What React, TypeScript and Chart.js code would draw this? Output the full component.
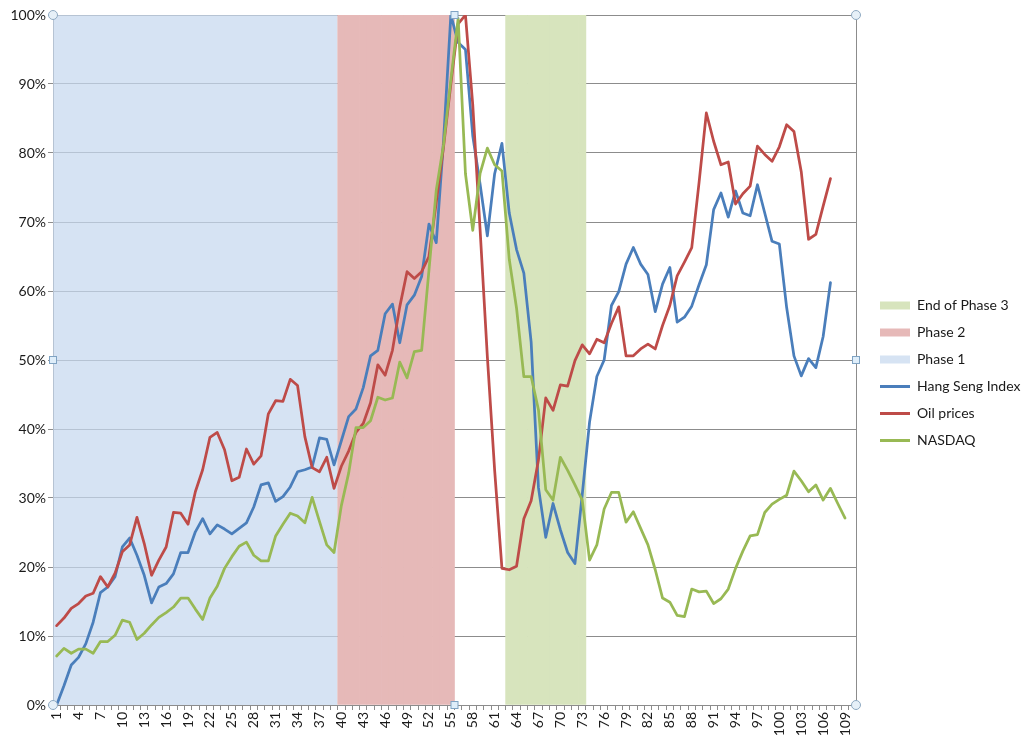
import React, { useEffect, useRef } from "react";
import { Chart, registerables } from "chart.js";

Chart.register(...registerables);

// ---- data ----
const categories: string[] = Array.from({ length: 110 }, (_, i) => String(i + 1));

const hangSeng: number[] = [
  0, 2.8, 5.8, 6.9, 8.9, 12, 16.3, 17.1, 18.6, 22.9,
  24.2, 21.7, 18.8, 14.8, 17.1, 17.6, 19, 22.1, 22.1, 25.1,
  27, 24.8, 26.1, 25.5, 24.8, 25.6, 26.4, 28.7, 31.9, 32.2,
  29.5, 30.2, 31.6, 33.8, 34.1, 34.5, 38.7, 38.5, 34.8, 38.3,
  41.8, 42.9, 46, 50.6, 51.4, 56.7, 58.1, 52.5, 58, 59.4,
  62.1, 69.7, 67, 81.8, 100, 96, 95, 82.5, 75.5, 68,
  77, 81.4, 71.3, 66, 62.6, 52.6, 31.5, 24.3, 29.2, 25.4,
  22.1, 20.5, 30.5, 41, 47.6, 50, 57.9, 59.9, 63.9, 66.3,
  63.9, 62.4, 57, 61, 63.4, 55.5, 56.2, 57.8, 60.9, 63.8,
  71.8, 74.2, 70.7, 74.5, 71.3, 70.9, 75.4, 71.3, 67.2, 66.8,
  57.6, 50.6, 47.7, 50.2, 48.9, 53.4, 61.2,
];

const oilPrices: number[] = [
  11.5, 12.6, 14, 14.7, 15.8, 16.2, 18.6, 17.1, 19.1, 22.2,
  23.2, 27.2, 23.4, 18.8, 21, 22.9, 27.9, 27.8, 26.2, 30.9,
  34.1, 38.8, 39.5, 37, 32.5, 33, 37.1, 34.9, 36.1, 42.2,
  44.1, 44, 47.2, 46.3, 38.9, 34.4, 33.8, 35.9, 31.4, 34.6,
  36.8, 39.5, 40.8, 43.8, 49.3, 47.8, 51.4, 57.7, 62.8, 61.8,
  62.8, 65, 72.8, 80.9, 90, 98.7, 100, 87, 69, 50.5,
  34, 19.8, 19.6, 20.1, 27, 29.6, 35.5, 44.5, 42.7, 46.4,
  46.2, 49.9, 52.2, 50.9, 53, 52.5, 55.3, 57.7, 50.6, 50.6,
  51.6, 52.3, 51.6, 55, 57.9, 62.2, 64.2, 66.3, 75.7, 85.8,
  81.7, 78.3, 78.7, 72.6, 74.1, 75.2, 81, 79.8, 78.8, 80.9,
  84.1, 83.1, 77.3, 67.5, 68.2, 72.3, 76.3,
];

const nasdaq: number[] = [
  7.1, 8.2, 7.5, 8.1, 8.1, 7.5, 9.2, 9.2, 10.1, 12.3,
  12, 9.5, 10.4, 11.6, 12.7, 13.4, 14.2, 15.5, 15.5, 13.9,
  12.4, 15.5, 17.2, 19.8, 21.5, 23, 23.6, 21.7, 20.9, 20.9,
  24.5, 26.2, 27.8, 27.4, 26.4, 30.1, 26.6, 23.2, 22.1, 28.9,
  33.6, 40.2, 40.2, 41.2, 44.6, 44.2, 44.5, 49.7, 47.4, 51.2,
  51.4, 63, 74.6, 81.2, 90.6, 99.5, 77, 68.8, 77, 80.7,
  78.3, 77.4, 64.6, 57.5, 47.6, 47.6, 42.8, 31.2, 29.7, 35.9,
  34, 31.9, 29.7, 21, 23.2, 28.4, 30.8, 30.8, 26.5, 28,
  25.6, 23.2, 19.6, 15.5, 14.9, 13, 12.8, 16.8, 16.4, 16.5,
  14.7, 15.4, 16.8, 19.8, 22.3, 24.5, 24.7, 27.9, 29.1, 29.8,
  30.4, 33.9, 32.5, 30.9, 31.9, 29.7, 31.4, 29.2, 27.1,
];

// phase bands: [first category, last category]
const phase1Range: [number, number] = [1, 39];
const phase2Range: [number, number] = [40, 55];
const phase3EndRange: [number, number] = [63, 73];
const bandHeight = 100;

const yTicks: number[] = [0, 10, 20, 30, 40, 50, 60, 70, 80, 90, 100];

// ---- styles ----
const C_HSI = "#4a7ebb";
const C_OIL = "#be4b48";
const C_NAS = "#98b954";
const C_P1 = "rgba(198,216,238,0.72)";
const C_P2 = "#e6b9b8";
const C_P3 = "#d7e4bd";
const GRID = "#8c8c8c";
const AXIS = "#8c8c8c";
const TEXT = "#1a1a1a";
const FONT = { family: "Lato, 'Liberation Sans', sans-serif", size: 14 };

const bandData = (r: [number, number]) =>
  categories.map((c) => {
    const n = Number(c);
    return n >= r[0] && n <= r[1] ? bandHeight : null;
  });

// Phase 1 as one continuous area on an invisible linear x axis aligned with the categories
const bandArea = (r: [number, number]) => [
  { x: r[0] - 0.5, y: bandHeight },
  { x: r[1] + 0.5, y: bandHeight },
];

const handlesPlugin = {
  id: "handles",
  afterDraw(chart: any) {
    const { left, right, top, bottom } = chart.chartArea;
    const ctx = chart.ctx as CanvasRenderingContext2D;
    const mx = (left + right) / 2;
    const my = (top + bottom) / 2;
    ctx.save();
    ctx.lineWidth = 1;
    ctx.strokeStyle = "#8ea9c1";
    ctx.fillStyle = "#e6f0f8";
    for (const [x, y] of [[left, top], [right, top], [left, bottom], [right, bottom]]) {
      ctx.beginPath();
      ctx.arc(x, y, 4.5, 0, Math.PI * 2);
      ctx.fill();
      ctx.stroke();
    }
    ctx.fillStyle = "#dfeefa";
    ctx.strokeStyle = "#7fa3c3";
    for (const [x, y] of [[mx, top], [mx, bottom], [left, my], [right, my]]) {
      ctx.fillRect(x - 3.5, y - 3.5, 7, 7);
      ctx.strokeRect(x - 3.5, y - 3.5, 7, 7);
    }
    ctx.restore();
  },
};

export default function App() {
  const ref = useRef<HTMLCanvasElement | null>(null);

  useEffect(() => {
    document.body.style.margin = "0";
    const canvas = ref.current;
    if (!canvas) return;

    const legendItems = [
      { text: "End of Phase 3", fillStyle: C_P3, strokeStyle: C_P3, lineWidth: 0, pointStyle: "rect", hidden: false, datasetIndex: 3, fontColor: TEXT },
      { text: "Phase 2", fillStyle: C_P2, strokeStyle: C_P2, lineWidth: 0, pointStyle: "rect", hidden: false, datasetIndex: 4, fontColor: TEXT },
      { text: "Phase 1", fillStyle: C_P1, strokeStyle: C_P1, lineWidth: 0, pointStyle: "rect", hidden: false, datasetIndex: 5, fontColor: TEXT },
      { text: "Hang Seng Index", fillStyle: C_HSI, strokeStyle: C_HSI, lineWidth: 3, pointStyle: "line", hidden: false, datasetIndex: 0, fontColor: TEXT },
      { text: "Oil prices", fillStyle: C_OIL, strokeStyle: C_OIL, lineWidth: 3, pointStyle: "line", hidden: false, datasetIndex: 1, fontColor: TEXT },
      { text: "NASDAQ", fillStyle: C_NAS, strokeStyle: C_NAS, lineWidth: 3, pointStyle: "line", hidden: false, datasetIndex: 2, fontColor: TEXT },
    ];

    const lineCommon = {
      type: "line" as const,
      borderWidth: 2.75,
      pointRadius: 0,
      pointHoverRadius: 0,
      tension: 0,
      fill: false,
      borderJoinStyle: "round" as const,
      borderCapStyle: "round" as const,
      yAxisID: "y",
    };
    const barCommon = {
      type: "bar" as const,
      barPercentage: 1,
      categoryPercentage: 1,
      grouped: false,
      borderWidth: 0,
      order: 10,
      yAxisID: "y",
    };

    const chart = new Chart(canvas, {
      type: "bar",
      data: {
        labels: categories,
        datasets: [
          { ...lineCommon, label: "Hang Seng Index", data: hangSeng, borderColor: C_HSI, backgroundColor: C_HSI, order: 3 },
          { ...lineCommon, label: "Oil prices", data: oilPrices, borderColor: C_OIL, backgroundColor: C_OIL, order: 2 },
          { ...lineCommon, label: "NASDAQ", data: nasdaq, borderColor: C_NAS, backgroundColor: C_NAS, order: 1 },
          { ...barCommon, label: "End of Phase 3", data: bandData(phase3EndRange), backgroundColor: C_P3 },
          { ...barCommon, label: "Phase 2", data: bandData(phase2Range), backgroundColor: C_P2 },
          {
            type: "line",
            label: "Phase 1",
            xAxisID: "xl",
            yAxisID: "y",
            data: bandArea(phase1Range),
            backgroundColor: C_P1,
            borderColor: "rgba(0,0,0,0)",
            borderWidth: 0,
            pointRadius: 0,
            pointHoverRadius: 0,
            fill: "origin",
            tension: 0,
            order: 11,
          },
        ] as any,
      },
      options: {
        responsive: false,
        animation: false,
        events: [],
        devicePixelRatio: 1,
        layout: { padding: { top: 5, left: 0, right: 0, bottom: 0 } },
        scales: {
          x: {
            type: "category",
            offset: true,
            grid: { display: true, drawOnChartArea: false, drawTicks: true, tickLength: 5, color: GRID, offset: true },
            border: { color: AXIS, width: 1 },
            ticks: {
              autoSkip: false,
              maxRotation: 90,
              minRotation: 90,
              padding: 2,
              font: FONT,
              color: TEXT,
              callback: (_v: any, index: number) => (index % 3 === 0 ? categories[index] : ""),
            },
            afterFit: (s: any) => {
              s.height = 36;
            },
          },
          xl: {
            type: "linear",
            axis: "x",
            position: "top",
            display: true,
            offset: false,
            bounds: "ticks",
            min: 0.5,
            max: categories.length + 0.5,
            grid: { display: false, drawTicks: false, offset: false },
            ticks: { display: false },
            border: { display: false },
            afterFit: (s: any) => {
              s.height = 0;
              s.paddingLeft = 0;
              s.paddingRight = 0;
            },
          },
          y: {
            type: "linear",
            min: yTicks[0],
            max: yTicks[yTicks.length - 1],
            afterBuildTicks: (s: any) => {
              s.ticks = yTicks.map((v) => ({ value: v }));
            },
            ticks: {
              padding: 2,
              font: FONT,
              color: TEXT,
              callback: (v: any) => `${v}%`,
            },
            grid: { color: GRID, tickLength: 5, lineWidth: 1 },
            border: { color: AXIS, width: 1 },
            afterFit: (s: any) => {
              s.width = 53;
              s.paddingTop = 15;
            },
          },
          yR: {
            type: "linear",
            position: "right",
            display: true,
            grid: { display: false },
            ticks: { display: false },
            border: { display: true, color: AXIS, width: 1 },
            afterFit: (s: any) => {
              s.width = 11;
            },
          },
        },
        plugins: {
          tooltip: { enabled: false },
          legend: {
            display: true,
            position: "right",
            align: "center",
            maxWidth: 157,
            labels: {
              usePointStyle: true,
              pointStyleWidth: 30,
              boxHeight: 8,
              padding: 13,
              font: FONT,
              color: TEXT,
              generateLabels: () => legendItems as any,
            },
          },
        },
      } as any,
      plugins: [handlesPlugin],
    });

    const fonts: any = (document as any).fonts;
    if (fonts && fonts.load) {
      fonts.load("14px Lato").then(() => {
        try {
          chart.update();
        } catch (e) {}
      });
    }

    return () => {
      chart.destroy();
    };
  }, []);

  return (
    <div style={{ width: 1024, height: 741 }}>
      <canvas ref={ref} width={1024} height={741} style={{ display: "block" }} />
    </div>
  );
}
